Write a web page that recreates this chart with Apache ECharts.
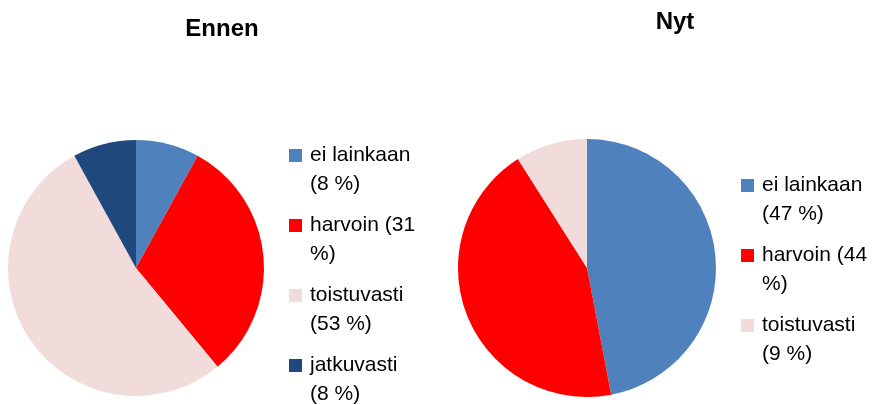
<!DOCTYPE html>
<html>
<head>
<meta charset="utf-8">
<script src="https://cdn.jsdelivr.net/npm/echarts@6/dist/echarts.min.js"></script>
<style>
  html, body { margin: 0; padding: 0; background: #fff; }
  #chart { width: 880px; height: 405px; }
</style>
</head>
<body>
<div id="chart"></div>
<script>
var categories = ['ei lainkaan', 'harvoin', 'toistuvasti', 'jatkuvasti'];
var ennenValues = [8, 31, 53, 8];
var nytValues = [47, 44, 9];
var colors = ['#4F81BD', '#FF0000', '#F2DCDB', '#1F497D'];

var chart = echarts.init(document.getElementById('chart'));

function pieData(values, prefix) {
    return values.map(function (v, i) {
        return { name: prefix + categories[i], value: v, itemStyle: { color: colors[i] } };
    });
}

// legend text wrapped like the original; blank first line keeps the
// square level with the first text line
var wrapped = {
    'a:ei lainkaan': 'ei lainkaan\n(8 %)',
    'a:harvoin': 'harvoin (31\n%)',
    'a:toistuvasti': 'toistuvasti\n(53 %)',
    'a:jatkuvasti': 'jatkuvasti\n(8 %)',
    'b:ei lainkaan': 'ei lainkaan\n(47 %)',
    'b:harvoin': 'harvoin (44\n%)',
    'b:toistuvasti': 'toistuvasti\n(9 %)'
};

var legendText = {
    fontFamily: 'Liberation Sans',
    fontSize: 21,
    color: '#000',
    lineHeight: 29,
    padding: [0, 0, 0, 3]
};

function legendOf(prefix, list, left, top) {
    return {
        orient: 'vertical',
        left: left,
        top: top,
        height: 400,
        padding: 0,
        icon: 'rect',
        itemWidth: 13,
        itemHeight: 13,
        itemGap: -17,
        data: list.map(function (c) { return prefix + c; }),
        formatter: function (n) { return ' \n' + wrapped[n]; },
        textStyle: legendText
    };
}

var option = {
    animation: false,
    title: [{
        text: 'Ennen',
        left: 217,
        top: 12,
        textAlign: 'center',
        textStyle: { fontFamily: 'Liberation Sans', fontSize: 24, fontWeight: 'bold', color: '#000' }
    }, {
        text: 'Nyt',
        left: 670,
        top: 5,
        textAlign: 'center',
        textStyle: { fontFamily: 'Liberation Sans', fontSize: 24, fontWeight: 'bold', color: '#000' }
    }],
    legend: [
        legendOf('a:', categories, 289, 112),
        legendOf('b:', categories.slice(0, 3), 741, 142)
    ],
    series: [{
        name: 'Ennen',
        type: 'pie',
        center: [136, 268],
        radius: 128,
        startAngle: 90,
        clockwise: true,
        label: { show: false },
        labelLine: { show: false },
        data: pieData(ennenValues, 'a:')
    }, {
        name: 'Nyt',
        type: 'pie',
        center: [587, 268],
        radius: 129,
        startAngle: 90,
        clockwise: true,
        label: { show: false },
        labelLine: { show: false },
        data: pieData(nytValues, 'b:')
    }]
};
chart.setOption(option);
</script>
</body>
</html>
